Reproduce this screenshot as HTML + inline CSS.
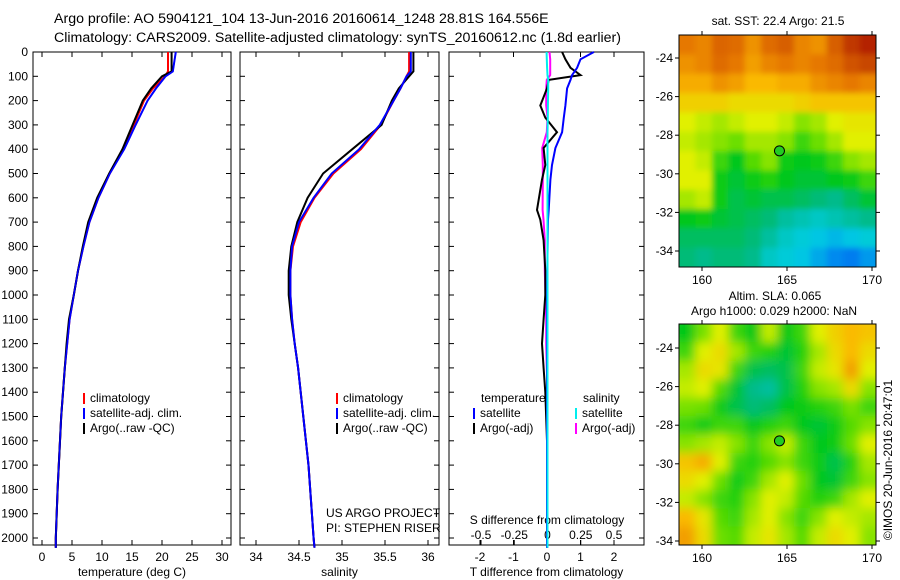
<!DOCTYPE html>
<html><head><meta charset="utf-8"><style>
body{margin:0;background:#fff}
svg{display:block;font-family:"Liberation Sans",sans-serif;font-size:12px}
</style></head><body>
<svg id="c" width="900" height="580" xmlns="http://www.w3.org/2000/svg"></svg>
<script>
// ---- data ----
const depthT=[0,80,100,150,200,300,400,500,600,700,800,900,1000,1100,1200,1300,1400,1500,1600,1700,1800,1900,2000,2040];
const tempClim=[21,21,20.5,18.5,17.0,15.3,13.6,11.3,9.4,7.9,6.9,6.0,5.3,4.6,4.2,3.8,3.5,3.2,3.0,2.8,2.6,2.45,2.3,2.3];
const tempSat=[22.3,21.8,20.6,19.0,17.6,15.6,13.7,11.3,9.4,7.9,6.9,6.0,5.3,4.6,4.2,3.8,3.5,3.2,3.0,2.8,2.6,2.45,2.3,2.3];
const tempArgo=[21.6,21.6,20.0,18.2,16.8,15.1,13.4,11.2,9.2,7.7,6.8,6.0,5.3,4.5,4.1,3.8,3.5,3.2,3.0,2.8,2.6,2.45,2.3,2.3];
const salClim=[35.78,35.78,35.75,35.68,35.6,35.45,35.22,34.9,34.68,34.52,34.43,34.4,34.4,34.42,34.45,34.49,34.52,34.55,34.58,34.61,34.63,34.65,34.67,34.68];
const salSat=[35.8,35.8,35.75,35.68,35.6,35.44,35.2,34.88,34.67,34.5,34.42,34.4,34.4,34.42,34.45,34.49,34.52,34.55,34.58,34.61,34.63,34.65,34.67,34.68];
const salArgo=[35.83,35.83,35.78,35.66,35.58,35.46,35.12,34.78,34.6,34.48,34.41,34.38,34.38,34.41,34.45,34.49,34.52,34.55,34.58,34.61,34.63,34.65,34.67,34.68];
const depthD=[0,30,65,95,115,150,220,270,330,395,465,525,650,690,775,900,1000,1100,1200,1300,1400,1600,2000,2040];
const tdiffSat=[1.4,1.0,0.9,0.75,0.7,0.6,0.55,0.5,0.45,0.25,0.15,0.1,0.05,0.03,0.02,0.01,0,0,0,0,0,0,0,0];
const tdiffArgo=[0.45,0.55,0.7,1.0,0.05,0,-0.2,-0.05,0.3,-0.1,-0.05,-0.15,-0.3,-0.2,-0.1,-0.05,-0.05,-0.1,-0.15,-0.1,-0.05,0,0,0];
const sdiffSat=[-0.007,-0.005,-0.003,0,0.005,0.005,0.003,0.002,0,0,0,0,0,0,0,0,0,0,0,0,0,0,0,0];
const sdiffArgo=[0.015,0.02,0.02,0.02,-0.005,-0.01,-0.01,0,-0.005,-0.04,-0.035,-0.035,-0.037,-0.03,-0.02,-0.02,-0.015,-0.01,-0.01,-0.005,0,0,0,0];
const depthTicks=[0,100,200,300,400,500,600,700,800,900,1000,1100,1200,1300,1400,1500,1600,1700,1800,1900,2000];
const tempTicks=[0,5,10,15,20,25,30];
const salTicks=[34,34.5,35,35.5,36];
const tdTicks=[-2,-1,0,1,2];
const sdTicks=[-0.5,-0.25,0,0.25,0.5];
const sstGrid=[
[.82,.80,.85,.84,.78,.84,.86,.80,.78,.86,.92,.95],
[.78,.80,.84,.82,.76,.80,.82,.80,.82,.84,.88,.90],
[.74,.74,.78,.76,.72,.72,.74,.74,.78,.80,.82,.80],
[.68,.68,.68,.66,.66,.66,.66,.68,.70,.70,.70,.70],
[.62,.60,.58,.60,.62,.62,.60,.56,.58,.62,.64,.64],
[.60,.58,.56,.54,.58,.58,.56,.50,.54,.58,.62,.62],
[.62,.60,.50,.44,.52,.56,.46,.44,.46,.50,.56,.58],
[.62,.62,.46,.42,.46,.48,.44,.42,.42,.44,.46,.50],
[.58,.60,.46,.40,.42,.40,.40,.38,.36,.34,.38,.42],
[.44,.46,.42,.40,.38,.36,.32,.30,.28,.30,.32,.34],
[.38,.38,.38,.38,.36,.32,.28,.26,.24,.22,.24,.26],
[.36,.34,.36,.36,.34,.28,.26,.24,.20,.16,.14,.18]];
const slaGrid=[
[.45,.55,.62,.50,.45,.60,.45,.50,.62,.68,.72,.70],
[.50,.62,.66,.58,.50,.48,.42,.48,.58,.66,.72,.66],
[.58,.66,.64,.50,.40,.38,.40,.50,.60,.64,.76,.62],
[.60,.62,.52,.42,.34,.32,.40,.48,.56,.58,.66,.56],
[.55,.54,.46,.40,.36,.38,.44,.46,.48,.50,.55,.50],
[.50,.46,.50,.50,.44,.48,.50,.44,.42,.46,.52,.56],
[.56,.58,.60,.56,.50,.56,.60,.50,.44,.46,.54,.62],
[.70,.74,.62,.50,.48,.52,.56,.50,.46,.40,.48,.58],
[.66,.62,.54,.46,.50,.58,.62,.54,.44,.42,.50,.56],
[.60,.56,.50,.48,.56,.62,.60,.52,.48,.50,.58,.62],
[.72,.64,.52,.50,.58,.62,.56,.50,.56,.62,.60,.58],
[.76,.66,.54,.52,.60,.64,.58,.52,.60,.66,.62,.56]];
const lonTicks=[160,165,170];
const latTicks=[-24,-26,-28,-30,-32,-34];

// ---- helpers ----
const NS="http://www.w3.org/2000/svg", svg=document.getElementById('c');
function mk(t,a,p){const e=document.createElementNS(NS,t);for(const k in a)e.setAttribute(k,a[k]);(p||svg).appendChild(e);return e;}
function txt(x,y,s,anchor,p,extra){const e=mk('text',Object.assign({x:x,y:y,'text-anchor':anchor||'start'},extra||{}),p);e.textContent=s;return e;}
const TOP=52,DY=0.243;
const yD=d=>TOP+d*DY;
function lin(d0,r0,d1,r1){return v=>r0+(v-d0)*(r1-r0)/(d1-d0);}
const xT=lin(0,42,30,222), xS=lin(34,256,36,428), xTD=lin(-2,480,2,614), xSD=lin(-0.5,481,0.5,614);
const cmapStops=[[0,[0,50,220]],[0.15,[0,130,240]],[0.25,[0,205,225]],[0.35,[0,185,130]],[0.45,[0,200,20]],[0.55,[120,225,0]],[0.62,[225,240,0]],[0.72,[250,185,0]],[0.82,[230,120,0]],[0.9,[200,70,0]],[1,[160,0,0]]];
function cmap(v){v=Math.max(0,Math.min(1,v));for(let i=1;i<cmapStops.length;i++){const [a,ca]=cmapStops[i-1],[b,cb]=cmapStops[i];if(v<=b){const t=(v-a)/(b-a);return 'rgb('+ca.map((c,k)=>Math.round(c+(cb[k]-c)*t)).join(',')+')';}}return 'rgb(160,0,0)';}

function panel(name,x0,x1,ticks,xf,fmt,title,showDepth){
  const g=mk('g',{});
  
  
  mk('rect',{x:x0,y:TOP,width:x1-x0,height:545-TOP,fill:'none',stroke:'#000'},g);
  depthTicks.forEach(d=>{
    mk('line',{x1:x0,x2:x0+5,y1:yD(d),y2:yD(d),stroke:'#000'},g);
    mk('line',{x1:x1-5,x2:x1,y1:yD(d),y2:yD(d),stroke:'#000'},g);
    if(showDepth){const t=txt(x0-5,yD(d)+4,String(d),'end',g);}
  });
  ticks.forEach(v=>{
    mk('line',{x1:xf(v),x2:xf(v),y1:TOP,y2:TOP+5,stroke:'#000'},g);
    mk('line',{x1:xf(v),x2:xf(v),y1:540,y2:545,stroke:'#000'},g);
    const t=txt(xf(v),561,fmt(v),'middle',g);
    
    
  });
  const t=txt((x0+x1)/2,576,title,'middle',g);
  
  
  return g;
}
function line(depths,vals,xf,color,name,w){
  const pts=vals.map((v,i)=>xf(v).toFixed(1)+','+yD(depths[i]).toFixed(1)).join(' ');
  const e=mk('polyline',{points:pts,fill:'none',stroke:color,'stroke-width':w||2});
  
  
}
function legend(x,y,items,p){items.forEach((it,i)=>{mk('line',{x1:x,x2:x,y1:y+i*15-9,y2:y+i*15+2,stroke:it[1],'stroke-width':2},p);const t=txt(x+6,y+i*15,it[0],'start',p);});}

// titles
let tt=txt(54,23,'Argo profile: AO 5904121_104 13-Jun-2016 20160614_1248 28.81S 164.556E','start',null,{'font-size':'14.2'});

tt=txt(54,42,'Climatology: CARS2009. Satellite-adjusted climatology: synTS_20160612.nc (1.8d earlier)','start',null,{'font-size':'14.2'});


// panel 1
const p1=panel('temperature-panel',33,231,tempTicks,xT,v=>String(v),'temperature (deg C)',true);
line(depthT,tempClim,xT,'#f00','temp-climatology-line');
line(depthT,tempSat,xT,'#00f','temp-satellite-line');
line(depthT,tempArgo,xT,'#000','temp-argo-line');
line(depthT,tempSat,xT,'#00f','temp-satellite-line-top',1.5);
legend(84,402,[['climatology','#f00'],['satellite-adj. clim.','#00f'],['Argo(..raw -QC)','#000']],p1);
// panel 2
const p2=panel('salinity-panel',240,439,salTicks,xS,v=>String(v),'salinity',false);
line(depthT,salClim,xS,'#f00','sal-climatology-line');
line(depthT,salArgo,xS,'#000','sal-argo-line');
line(depthT,salSat,xS,'#00f','sal-satellite-line');
legend(337,402,[['climatology','#f00'],['satellite-adj. clim.','#00f'],['Argo(..raw -QC)','#000']],p2);
txt(326,517,'US ARGO PROJECT','start',p2);
txt(326,532,'PI: STEPHEN RISER','start',p2);
// panel 3
const p3=panel('difference-panel',449,644,tdTicks,xTD,v=>String(v),'T difference from climatology',false);
line(depthD,sdiffArgo,xSD,'#f0f','sdiff-argo-line');
line(depthD,tdiffArgo,xTD,'#000','tdiff-argo-line');
line(depthD,tdiffSat,xTD,'#00f','tdiff-satellite-line');
line(depthD,sdiffSat,xSD,'#0ee','sdiff-satellite-line');
txt(481,402,'temperature','start',p3);txt(583,402,'salinity','start',p3);
legend(474,417,[['satellite','#00f'],['Argo(-adj)','#000']],p3);
legend(576,417,[['satellite','#0ee'],['Argo(-adj)','#f0f']],p3);
txt(547,524,'S difference from climatology','middle',p3);
sdTicks.forEach(v=>{mk('line',{x1:xSD(v),x2:xSD(v),y1:540,y2:545,stroke:'#000'},p3);const t=txt(xSD(v),539,String(v),'middle',p3);});

// maps
mk('defs',{}).innerHTML='<filter id="bl"><feGaussianBlur stdDeviation="5"/></filter><filter id="bl2"><feGaussianBlur stdDeviation="3"/></filter><clipPath id="c1"><rect x="679" y="35" width="197" height="232"/></clipPath><clipPath id="c2"><rect x="679" y="324" width="197" height="221"/></clipPath>';
function map(name,grid,y0,y1,latY,blur,clip){
  const g=mk('g',{});
  
  
  const x0=679,x1=876,lonX=lin(160,702,170,872);
  const cg=mk('g',{'clip-path':`url(#${clip})`},g);
  const ig=mk('g',{filter:`url(#${blur})`},cg);
  const n=grid.length,m=grid[0].length,cw=(x1-x0)/m,ch=(y1-y0)/n;
  grid.forEach((row,i)=>row.forEach((v,j)=>{const r=mk('rect',{x:x0+j*cw-8*(j==0),y:y0+i*ch-8*(i==0),width:cw+1+8*(j==0||j==m-1),height:ch+1+8*(i==0||i==n-1),fill:cmap(v)},ig);}));
  mk('rect',{x:x0,y:y0,width:x1-x0,height:y1-y0,fill:'none',stroke:'#000'},g);
  lonTicks.forEach(v=>{mk('line',{x1:lonX(v),x2:lonX(v),y1:y0-4,y2:y0,stroke:'#000'},g);mk('line',{x1:lonX(v),x2:lonX(v),y1:y1,y2:y1+4,stroke:'#000'},g);txt(lonX(v),y1+17,String(v),'middle',g);});
  latTicks.forEach(v=>{mk('line',{x1:x0-4,x2:x0,y1:latY(v),y2:latY(v),stroke:'#000'},g);mk('line',{x1:x1,x2:x1+4,y1:latY(v),y2:latY(v),stroke:'#000'},g);txt(x0-6,latY(v)+4,String(v),'end',g);});
  const mkr=mk('circle',{cx:lonX(164.556),cy:latY(-28.81),r:5,fill:'#2c2',stroke:'#000'},g);
  
  
  return g;
}
const m1=map('sst-map',sstGrid,35,267,lin(-24,58,-34,251),'bl2','c1');
txt(778,25,'sat. SST: 22.4  Argo: 21.5','middle',m1);
const m2=map('sla-map',slaGrid,324,545,lin(-24,348,-34,541),'bl','c2');
txt(775,300,'Altim. SLA: 0.065','middle',m2);
txt(774,315,'Argo h1000: 0.029 h2000: NaN','middle',m2);
const cr=txt(0,0,'©IMOS 20-Jun-2016 20:47:01','middle',null,{transform:'translate(892,460) rotate(-90)'});

</script>
</body></html>
